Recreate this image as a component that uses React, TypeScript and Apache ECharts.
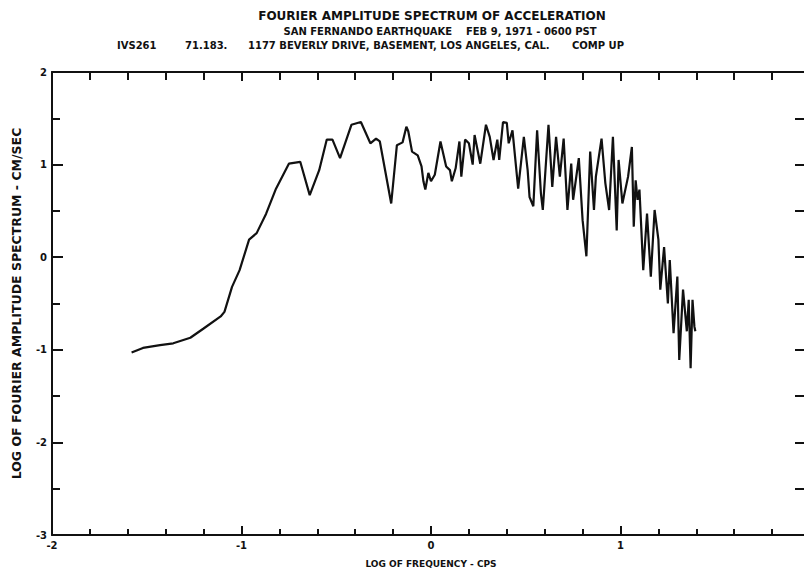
import React, { useEffect, useRef } from "react";
import * as echarts from "echarts";

const TITLE_LINE = "FOURIER AMPLITUDE SPECTRUM OF ACCELERATION";
const EVENT_LINE = "SAN FERNANDO EARTHQUAKE    FEB 9, 1971 - 0600 PST";
const RECORD_ID = "IVS261";
const RECORD_NO = "71.183.";
const STATION = "1177 BEVERLY DRIVE, BASEMENT, LOS ANGELES, CAL.";
const COMPONENT = "COMP UP";
const X_NAME = "LOG OF FREQUENCY - CPS";
const Y_NAME = "LOG OF FOURIER AMPLITUDE SPECTRUM - CM/SEC";

// log10 frequency (cps)
const LOG_FREQ = [
  -1.58, -1.52, -1.43, -1.36, -1.27, -1.2, -1.11, -1.09, -1.05, -1.01,
  -0.96, -0.92, -0.87, -0.82, -0.75, -0.69, -0.64, -0.59, -0.55, -0.52,
  -0.48, -0.42, -0.37, -0.32, -0.29, -0.27, -0.21, -0.18, -0.15, -0.13,
  -0.12, -0.1, -0.07, -0.05, -0.04, -0.03, -0.014, 0.0, 0.02, 0.05,
  0.08, 0.1, 0.11, 0.13, 0.15, 0.16, 0.18, 0.2, 0.22, 0.23,
  0.26, 0.29, 0.31, 0.33, 0.35, 0.36, 0.38, 0.4, 0.41, 0.43,
  0.46, 0.49, 0.51, 0.52, 0.54, 0.56, 0.58, 0.59, 0.62, 0.64,
  0.66, 0.68, 0.7, 0.72, 0.74, 0.75, 0.78, 0.8, 0.82, 0.84,
  0.86, 0.87, 0.9, 0.92, 0.94, 0.96, 0.98, 0.99, 1.01, 1.04,
  1.06, 1.07, 1.08, 1.09, 1.1, 1.11, 1.12, 1.14, 1.16, 1.18,
  1.2, 1.21, 1.23, 1.25, 1.26, 1.28, 1.3, 1.31, 1.33, 1.35,
  1.36, 1.37, 1.38, 1.39, 1.395,
];

// log10 Fourier amplitude (cm/sec)
const LOG_AMP = [
  -1.03, -0.98, -0.95, -0.93, -0.87, -0.77, -0.64, -0.59, -0.32, -0.14,
  0.19, 0.26, 0.47, 0.73, 1.01, 1.03, 0.67, 0.94, 1.27, 1.27,
  1.07, 1.43, 1.46, 1.23, 1.28, 1.25, 0.58, 1.21, 1.24, 1.41,
  1.36, 1.14, 1.1, 0.98, 0.82, 0.73, 0.91, 0.82, 0.89, 1.25,
  0.98, 0.94, 0.82, 0.96, 1.25, 0.87, 1.27, 1.23, 1.0, 1.32,
  1.01, 1.43, 1.3, 1.05, 1.27, 1.05, 1.46, 1.45, 1.23, 1.37,
  0.74, 1.3, 0.94, 0.65, 0.55, 1.37, 0.69, 0.51, 1.43, 0.76,
  1.3, 0.87, 1.28, 0.51, 1.01, 0.62, 1.07, 0.4, 0.01, 1.14,
  0.51, 0.87, 1.28, 0.8, 0.51, 1.3, 0.29, 1.05, 0.58, 0.87,
  1.19, 0.33, 0.83, 0.62, 0.73, 0.3, -0.14, 0.47, -0.21, 0.51,
  0.19, -0.35, 0.11, -0.5, -0.03, -0.82, -0.21, -1.11, -0.35, -0.8,
  -0.46, -1.2, -0.46, -0.75, -0.8,
];

const X_LABELS = [-2, -1, 0, 1];

const INK = "#111";
const FONT = "DejaVu Sans";

export default function App() {
  const ref = useRef<HTMLDivElement>(null);

  useEffect(() => {
    document.body.style.margin = "0";
    const chart = echarts.init(ref.current!, null, { renderer: "svg" });
    const points = LOG_FREQ.map((x, i) => [x, LOG_AMP[i]]);

    const line = { onZero: false, lineStyle: { color: INK, width: 2 } };
    const tick = (len: number) => ({
      show: true,
      inside: true,
      length: len,
      lineStyle: { color: INK, width: 2 },
    });
    const minor = (n: number, len: number) => ({
      show: true,
      splitNumber: n,
      length: len,
      lineStyle: { color: INK, width: 2 },
    });
    const labelStyle = {
      color: INK,
      fontFamily: FONT,
      fontWeight: "bold" as const,
      fontSize: 10,
    };

    chart.setOption({
      animation: false,
      backgroundColor: "#fff",
      grid: {
        left: 52,
        top: 72,
        width: 758,
        height: 463,
        containLabel: false,
        outerBoundsMode: "none",
      },
      xAxis: [
        {
          type: "value",
          position: "bottom",
          min: -2,
          max: 2,
          interval: 1,
          axisLine: line,
          axisTick: tick(9),
          minorTick: minor(5, 6),
          splitLine: { show: false },
          minorSplitLine: { show: false },
          axisLabel: {
            ...labelStyle,
            margin: 5,
            formatter: (v: number) => (X_LABELS.includes(v) ? String(v) : ""),
          },
          name: X_NAME,
          nameLocation: "middle",
          nameGap: 24,
          nameTextStyle: { color: INK, fontFamily: FONT, fontWeight: "bold", fontSize: 9 },
        },
        {
          type: "value",
          position: "top",
          min: -2,
          max: 2,
          interval: 1,
          axisLine: line,
          axisTick: tick(9),
          minorTick: minor(5, 8),
          splitLine: { show: false },
          axisLabel: { show: false },
        },
      ],
      yAxis: [
        {
          type: "value",
          position: "left",
          min: -3,
          max: 2,
          interval: 1,
          axisLine: line,
          axisTick: tick(11),
          minorTick: minor(2, 8),
          splitLine: { show: false },
          axisLabel: { ...labelStyle, margin: 5 },
          name: Y_NAME,
          nameLocation: "middle",
          nameGap: 29,
          nameTextStyle: { color: INK, fontFamily: FONT, fontWeight: "bold", fontSize: 12.5 },
        },
        {
          type: "value",
          position: "right",
          min: -3,
          max: 2,
          interval: 1,
          axisLine: line,
          axisTick: tick(15),
          minorTick: minor(2, 15),
          splitLine: { show: false },
          axisLabel: { show: false },
        },
      ],
      series: [
        {
          type: "line",
          xAxisIndex: 0,
          yAxisIndex: 0,
          data: points,
          showSymbol: false,
          lineStyle: { color: INK, width: 2.2 },
          itemStyle: { color: INK },
          clip: true,
        },
      ],
      graphic: [
        {
          type: "text",
          x: 432,
          y: 16,
          style: {
            text: TITLE_LINE,
            fill: INK,
            font: `bold 12px "${FONT}"`,
            textAlign: "center",
            textVerticalAlign: "middle",
          },
        },
        {
          type: "text",
          x: 440,
          y: 31,
          style: {
            text: EVENT_LINE,
            fill: INK,
            font: `bold 10px "${FONT}"`,
            textAlign: "center",
            textVerticalAlign: "middle",
          },
        },
        {
          type: "text",
          x: 117,
          y: 45,
          style: { text: RECORD_ID, fill: INK, font: `bold 10px "${FONT}"`, textVerticalAlign: "middle" },
        },
        {
          type: "text",
          x: 185,
          y: 45,
          style: { text: RECORD_NO, fill: INK, font: `bold 10px "${FONT}"`, textVerticalAlign: "middle" },
        },
        {
          type: "text",
          x: 248,
          y: 45,
          style: { text: STATION, fill: INK, font: `bold 10px "${FONT}"`, textVerticalAlign: "middle" },
        },
        {
          type: "text",
          x: 572,
          y: 45,
          style: { text: COMPONENT, fill: INK, font: `bold 10px "${FONT}"`, textVerticalAlign: "middle" },
        },
      ],
    });

    return () => chart.dispose();
  }, []);

  return (
    <div
      ref={ref}
      style={{ position: "absolute", left: 0, top: 0, width: 804, height: 573 }}
    />
  );
}
